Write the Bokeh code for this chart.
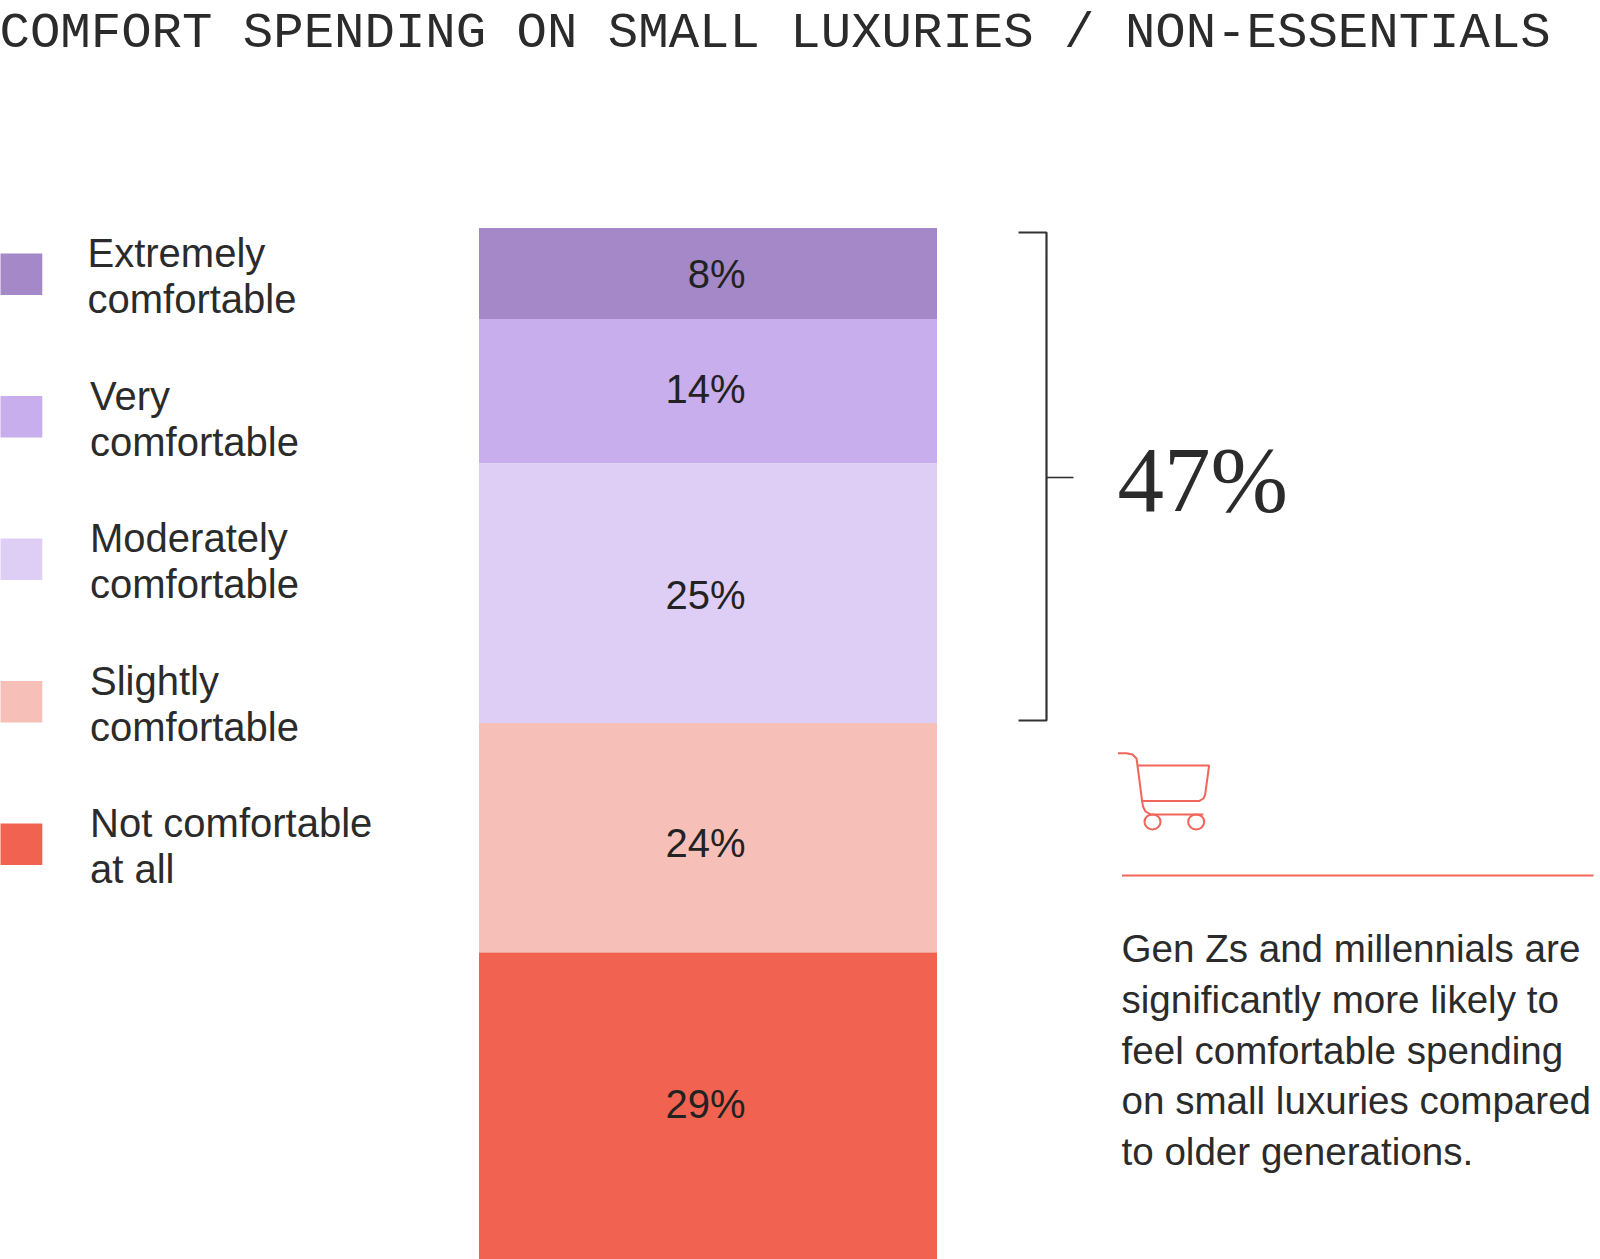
from bokeh.plotting import figure
from bokeh.models import Range1d
from bokeh.core.properties import value
from bokeh.embed import file_html
from bokeh.resources import INLINE

# ---- data ----
title = "COMFORT SPENDING ON SMALL LUXURIES / NON-ESSENTIALS"
categories = ["Extremely\ncomfortable", "Very\ncomfortable", "Moderately\ncomfortable",
              "Slightly\ncomfortable", "Not comfortable\nat all"]
percent_labels = ["8%", "14%", "25%", "24%", "29%"]
# segment lengths as the picture draws them, in share points (the last runs off the page)
drawn_lengths = [8.92, 14.17, 25.44, 22.5, 30.5]
colors = ["#A488C8", "#C8AEEC", "#DECDF5", "#F6C0B8", "#F16350"]
total_label = "47%"
note_lines = ["Gen Zs and millennials are", "significantly more likely to",
              "feel comfortable spending", "on small luxuries compared",
              "to older generations."]

INK = "#2b2b2b"
RED = "#F2655A"
SANS = value("Liberation Sans")

W, H = 1600, 1259
p = figure(width=W, height=H, x_range=Range1d(0, W), y_range=Range1d(H, 0),
           output_backend="svg", toolbar_location=None, min_border=0,
           background_fill_color="white", border_fill_color="white",
           outline_line_color=None)
p.axis.visible = False
p.grid.visible = False
p.styles = {"position": "absolute", "left": "0px", "top": "0px"}

# share scale for the stacked bar
PX_PER_POINT = 10.2
BAR_TOP = 227.5
p.extra_y_ranges = {"share": Range1d((H - BAR_TOP) / PX_PER_POINT, -BAR_TOP / PX_PER_POINT)}

# title
p.text([-1], [33], text=[title], text_font=value("Liberation Mono"), text_font_size="50.7px",
       text_color=INK, text_align="left", text_baseline="middle")

# stacked bar
bottoms, start = [], 0.0
for v in drawn_lengths:
    bottoms.append(start + v)
    start += v
tops = [b - v for b, v in zip(bottoms, drawn_lengths)]
p.quad(left=478.5, right=936.5, top=tops, bottom=bottoms, fill_color=colors, line_color=None,
       y_range_name="share")

# bar labels
label_y = [273.5, 388, 594, 842, 1103]
p.text([745] * 5, label_y, text=percent_labels, text_font=SANS, text_font_size="40px",
       text_color="#222222", text_align="right", text_baseline="middle")

# legend
step = 142.5
for i, (cat, col) in enumerate(zip(categories, colors)):
    y0 = 253 + i * step
    p.quad(left=-4, right=41.8, top=y0, bottom=y0 + 41.5, fill_color=col, line_color=None)
    l1, l2 = cat.split("\n")
    x = 87 if i == 0 else 89.5
    p.text([x, x], [y0 - 0.5, y0 + 45.5], text=[l1, l2], text_font=SANS, text_font_size="40px",
           text_color=INK, text_align="left", text_baseline="middle")

# bracket
p.line([1018, 1046, 1046, 1018], [232, 232, 720, 720], line_color="#333333", line_width=2.2)
p.line([1046, 1073], [477, 477], line_color="#333333", line_width=1.6)
p.text([1117], [479], text=[total_label], text_font=value("Liberation Serif"), text_font_size="93px",
       text_color=INK, text_align="left", text_baseline="middle")

# cart icon
p.line([1117.5, 1126, 1132, 1136, 1137, 1141.6, 1142.5, 1145, 1150, 1202.8],
       [752.7, 752.7, 754, 758, 765, 800.4, 806, 811, 813.9, 813.9],
       line_color=RED, line_width=2)
p.line([1137, 1208.6, 1204.7, 1203, 1199, 1141.6],
       [765, 765, 793.8, 798, 800.4, 800.4],
       line_color=RED, line_width=2)
p.ellipse([1152, 1195.7], [821.4, 821.4], width=16, height=15, fill_color=None,
          line_color=RED, line_width=2)

# rule and note
p.line([1121.5, 1593], [875, 875], line_color=RED, line_width=2)
note_y = [948, 999, 1050, 1100, 1151]
p.text([1121] * 5, note_y, text=note_lines, text_font=SANS, text_font_size="38.6px",
       text_color=INK, text_align="left", text_baseline="middle")

open("out.html", "w").write(file_html(p, INLINE))
